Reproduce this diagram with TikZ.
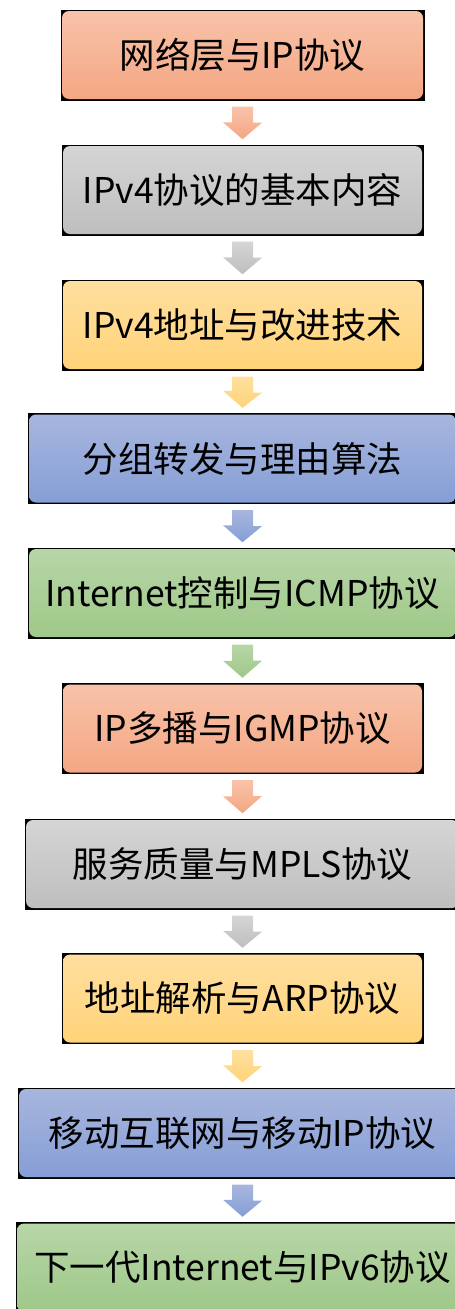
\documentclass[tikz,border=0pt]{standalone}
\usepackage{fontspec}
\setmainfont{Noto Sans CJK SC}

\definecolor{redtop}{RGB}{248,195,170}
\definecolor{redbot}{RGB}{244,166,130}
\definecolor{greytop}{RGB}{213,213,213}
\definecolor{greybot}{RGB}{190,190,190}
\definecolor{yellowtop}{RGB}{255,223,160}
\definecolor{yellowbot}{RGB}{255,211,120}
\definecolor{bluetop}{RGB}{168,182,222}
\definecolor{bluebot}{RGB}{133,158,214}
\definecolor{greentop}{RGB}{184,214,168}
\definecolor{greenbot}{RGB}{158,200,136}

\tikzset{
	box/.style={fill=black, minimum height=91pt, inner sep=0pt, font=\fontsize{35.5}{42}\selectfont,
		path picture={\shade[top color=#1top, bottom color=#1bot, rounded corners=7pt]
			([shift={(1.5pt,-1.5pt)}]path picture bounding box.north west) rectangle
			([shift={(-1.5pt,1.5pt)}]path picture bounding box.south east);}},
	arr/.style={top color=#1top, bottom color=#1bot},
}

\begin{document}
\begin{tikzpicture}[x=1pt, y=1pt]
		\clip (0,0) rectangle (455,-1309);

		\node[box=red, minimum width=364pt] (n1) at (242.5,-55) {网络层与IP协议};
		\node[box=grey, minimum width=362pt] (n2) at (242.5,-190) {IPv4协议的基本内容};
		\node[box=yellow, minimum width=362pt] (n3) at (242.5,-325) {IPv4地址与改进技术};
		\node[box=blue, minimum width=430pt] (n4) at (242.5,-458.5) {分组转发与理由算法};
		\node[box=green, minimum width=430pt] (n5) at (242.5,-593) {Internet控制与ICMP协议};
		\node[box=red, minimum width=362pt] (n6) at (242.5,-728.5) {IP多播与IGMP协议};
		\node[box=grey, minimum width=436pt] (n7) at (242.5,-864) {服务质量与MPLS协议};
		\node[box=yellow, minimum width=362pt] (n8) at (242.5,-998.5) {地址解析与ARP协议};
		\node[box=blue, minimum width=450pt] (n9) at (242.5,-1133) {移动互联网与移动IP协议};
		\node[box=green, minimum width=454pt] (n10) at (242.5,-1267.5) {下一代Internet与IPv6协议};

		\shade[arr=red] ([shift={(-10.5,-6)}]n1.south) -- ++(21,0) -- ++(0,-16) -- ++(9,0) -- ([yshift=5]n2.north) -- ++(-19.5,17) -- ++(9,0) -- cycle;
		\shade[arr=grey] ([shift={(-10.5,-6)}]n2.south) -- ++(21,0) -- ++(0,-16) -- ++(9,0) -- ([yshift=5]n3.north) -- ++(-19.5,17) -- ++(9,0) -- cycle;
		\shade[arr=yellow] ([shift={(-10.5,-6)}]n3.south) -- ++(21,0) -- ++(0,-16) -- ++(9,0) -- ([yshift=5]n4.north) -- ++(-19.5,17) -- ++(9,0) -- cycle;
		\shade[arr=blue] ([shift={(-10.5,-6)}]n4.south) -- ++(21,0) -- ++(0,-16) -- ++(9,0) -- ([yshift=5]n5.north) -- ++(-19.5,17) -- ++(9,0) -- cycle;
		\shade[arr=green] ([shift={(-10.5,-6)}]n5.south) -- ++(21,0) -- ++(0,-16) -- ++(9,0) -- ([yshift=5]n6.north) -- ++(-19.5,17) -- ++(9,0) -- cycle;
		\shade[arr=red] ([shift={(-10.5,-6)}]n6.south) -- ++(21,0) -- ++(0,-16) -- ++(9,0) -- ([yshift=5]n7.north) -- ++(-19.5,17) -- ++(9,0) -- cycle;
		\shade[arr=grey] ([shift={(-10.5,-6)}]n7.south) -- ++(21,0) -- ++(0,-16) -- ++(9,0) -- ([yshift=5]n8.north) -- ++(-19.5,17) -- ++(9,0) -- cycle;
		\shade[arr=yellow] ([shift={(-10.5,-6)}]n8.south) -- ++(21,0) -- ++(0,-16) -- ++(9,0) -- ([yshift=5]n9.north) -- ++(-19.5,17) -- ++(9,0) -- cycle;
		\shade[arr=blue] ([shift={(-10.5,-6)}]n9.south) -- ++(21,0) -- ++(0,-16) -- ++(9,0) -- ([yshift=5]n10.north) -- ++(-19.5,17) -- ++(9,0) -- cycle;
	\end{tikzpicture}
\end{document}
